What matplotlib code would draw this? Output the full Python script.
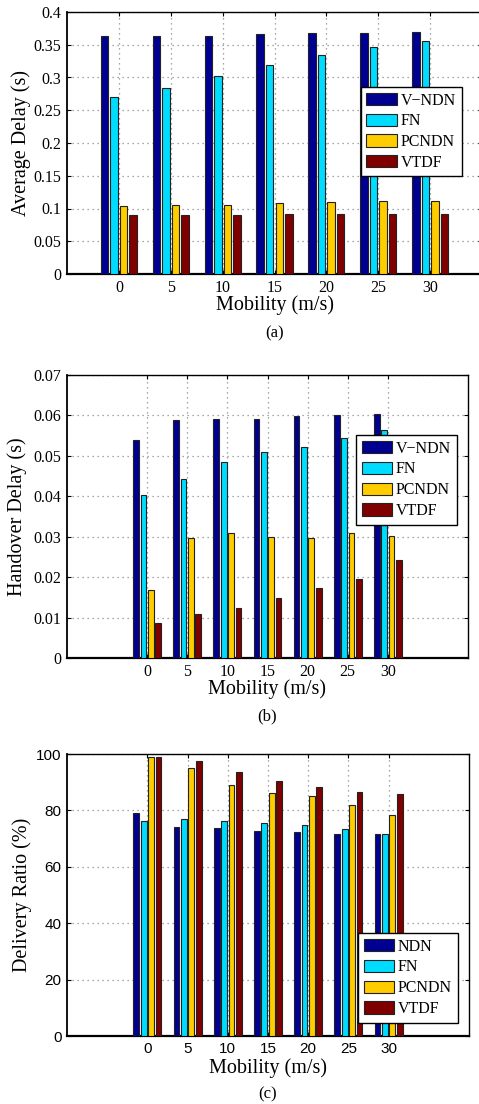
import matplotlib
matplotlib.use("Agg")
import matplotlib.pyplot as plt
import numpy as np

# ---------------- data ----------------
mobility = [0, 5, 10, 15, 20, 25, 30]

series_a = ["V\u2212NDN", "FN", "PCNDN", "VTDF"]
avg_vndn = [0.363, 0.363, 0.363, 0.366, 0.3675, 0.3685, 0.369]
avg_fn = [0.270, 0.284, 0.302, 0.319, 0.334, 0.346, 0.355]
avg_pcndn = [0.104, 0.105, 0.106, 0.109, 0.110, 0.111, 0.112]
avg_vtdf = [0.0895, 0.090, 0.0905, 0.091, 0.091, 0.091, 0.091]

series_b = ["V\u2212NDN", "FN", "PCNDN", "VTDF"]
ho_vndn = [0.0539, 0.0589, 0.0590, 0.0591, 0.0598, 0.0600, 0.0603]
ho_fn = [0.0402, 0.0443, 0.0484, 0.0510, 0.0523, 0.0543, 0.0564]
ho_pcndn = [0.0168, 0.0296, 0.0308, 0.0300, 0.0298, 0.0310, 0.0302]
ho_vtdf = [0.0086, 0.0110, 0.0123, 0.0149, 0.0173, 0.0195, 0.0242]

series_c = ["NDN", "FN", "PCNDN", "VTDF"]
dr_ndn = [79.2, 74.2, 73.6, 72.8, 72.3, 71.8, 71.5]
dr_fn = [76.1, 77.0, 76.4, 75.6, 74.7, 73.3, 71.5]
dr_pcndn = [99.0, 95.0, 89.1, 86.2, 85.1, 81.8, 78.2]
dr_vtdf = [99.0, 97.6, 93.7, 90.5, 88.3, 86.5, 85.8]

colors = ["#000090", "#00DCFF", "#FFCC00", "#800000"]

W, H = 479, 1104
fig = plt.figure(figsize=(W / 100, H / 100), dpi=100)

SERIF = "Liberation Serif"
SANS = "Liberation Sans"


def px_axes(l, t, r, b):
    return fig.add_axes([l / W, 1 - b / H, (r - l) / W, (b - t) / H])


def draw(ax, vals, names, ylim, yticks, ytl, xlim, leg_box, tick_font, tick_size,
         ylabel, xlab_y, cap_y, cap, ylab_x):
    x = np.array(mobility, dtype=float)
    spacing = 0.92
    width = 0.72
    for i, (v, n) in enumerate(zip(vals, names)):
        ax.bar(x + (i - 1.5) * spacing, v, width=width, color=colors[i],
               edgecolor="#222222", linewidth=0.8, label=n, zorder=3)
    ax.set_xlim(*xlim)
    ax.set_ylim(*ylim)
    ax.set_xticks(mobility)
    ax.set_xticklabels([str(m) for m in mobility], fontfamily=tick_font, fontsize=tick_size)
    ax.set_yticks(yticks)
    ax.set_yticklabels(ytl, fontfamily=tick_font, fontsize=tick_size)
    ax.grid(True, linestyle=(0, (1, 3)), color="#8a8a8a", linewidth=0.9, zorder=0)
    ax.set_axisbelow(True)
    ax.tick_params(direction="in", length=3, width=0.8, top=True, right=True,
                   colors="black")
    ax.tick_params(axis="x", pad=4)
    ax.tick_params(axis="y", pad=4)
    for s in ax.spines.values():
        s.set_linewidth(1.0)
    ax.spines["bottom"].set_linewidth(1.6)
    ax.spines["left"].set_linewidth(1.3)
    l, b, r, t = leg_box
    leg = ax.legend(loc="upper left", bbox_to_anchor=(l, t), fancybox=False,
                    framealpha=1, edgecolor="black", prop={"family": SERIF, "size": 11.5},
                    handlelength=1.9, handleheight=0.8, handletextpad=0.25,
                    labelspacing=0.3, borderpad=0.35, borderaxespad=0)
    leg.get_frame().set_linewidth(1.0)
    pos = ax.get_position()
    cx = (pos.x0 + pos.x1) / 2
    fig.text(cx, 1 - xlab_y / H, "Mobility (m/s)", ha="center", va="center",
             fontfamily=SERIF, fontsize=14.5)
    fig.text(cx, 1 - cap_y / H, cap, ha="center", va="center",
             fontfamily=SERIF, fontsize=12)
    fig.text(ylab_x / W, (pos.y0 + pos.y1) / 2, ylabel, ha="center", va="center",
             rotation=90, fontfamily=SERIF, fontsize=14.5)


# (a)
ax1 = px_axes(67, 12, 482, 274)
draw(ax1, [avg_vndn, avg_fn, avg_pcndn, avg_vtdf], series_a, (0, 0.4),
     np.arange(0, 0.401, 0.05), ["0", "0.05", "0.1", "0.15", "0.2", "0.25", "0.3", "0.35", "0.4"],
     (-5, 35), (0.708, 0.382, 0.949, 0.714), SERIF, 11.5, "Average Delay (s)", 305, 333, "(a)", 21)

# (b)
ax2 = px_axes(67, 375, 468, 658)
draw(ax2, [ho_vndn, ho_fn, ho_pcndn, ho_vtdf], series_b, (0, 0.07),
     np.arange(0, 0.0701, 0.01), ["0", "0.01", "0.02", "0.03", "0.04", "0.05", "0.06", "0.07"],
     (-10, 40), (0.721, 0.477, 0.970, 0.788), SERIF, 11.5, "Handover Delay (s)", 689, 716, "(b)", 17)

# (c)
ax3 = px_axes(67, 754, 469, 1036)
draw(ax3, [dr_ndn, dr_fn, dr_pcndn, dr_vtdf], series_c, (0, 100),
     np.arange(0, 101, 20), ["0", "20", "40", "60", "80", "100"],
     (-10, 40), (0.724, 0.053, 0.975, 0.365), SANS, 11, "Delivery Ratio (%)", 1068, 1094, "(c)", 22)

fig.savefig("out.png", dpi=100)
